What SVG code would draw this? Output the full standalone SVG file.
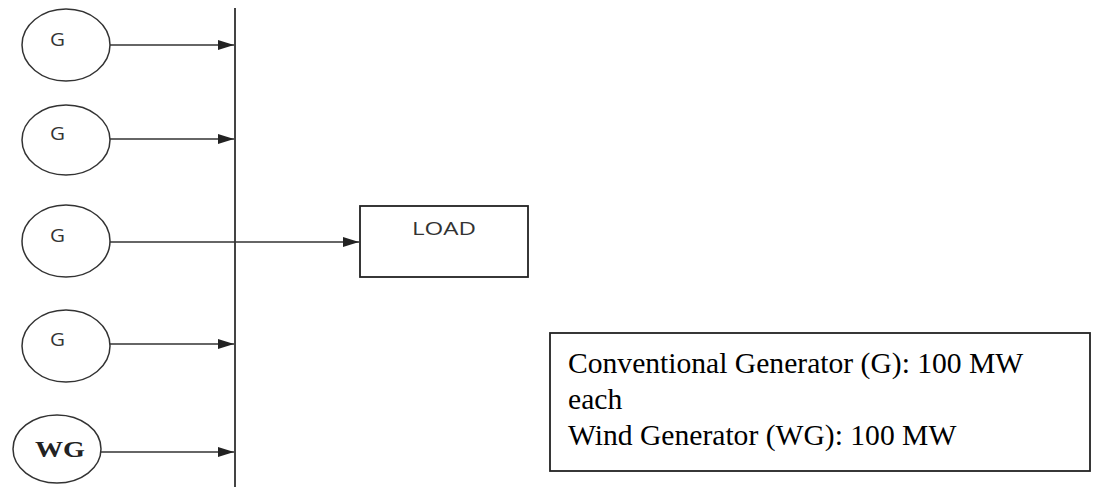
<svg xmlns="http://www.w3.org/2000/svg" width="1094" height="487" viewBox="0 0 1094 487">
<defs>
<marker id="ah" markerWidth="16" markerHeight="10" refX="16" refY="5" orient="auto" markerUnits="userSpaceOnUse">
<path d="M0,0 L16,5 L0,10 Z" fill="#222"/>
</marker>
<style>
.gen{fill:#fff;stroke:#333;stroke-width:1.5}
.gt{font-family:"Open Sans","DejaVu Sans",sans-serif;font-size:19px;fill:#333}
.wt{font-family:"Liberation Serif",serif;font-size:23px;font-weight:bold;fill:#222}
.conn{stroke:#333;stroke-width:1.6;fill:none}
.bus{stroke:#444;stroke-width:2;fill:none}
.box{fill:#fff;stroke:#222;stroke-width:1.8}
.lt{font-family:"Liberation Serif",serif;font-size:29.6px;fill:#000}
</style>
</defs>
<rect width="1094" height="487" fill="#fff"/>
<g id="connectors">
<line class="bus" x1="235" y1="8" x2="235" y2="487"/>
<line class="conn" x1="110" y1="45" x2="234" y2="45" marker-end="url(#ah)"/>
<line class="conn" x1="110" y1="139" x2="234" y2="139" marker-end="url(#ah)"/>
<line class="conn" x1="110" y1="242" x2="359" y2="242" marker-end="url(#ah)"/>
<line class="conn" x1="110" y1="344" x2="234" y2="344" marker-end="url(#ah)"/>
<line class="conn" x1="101" y1="452" x2="234" y2="452" marker-end="url(#ah)"/>
</g>
<g id="g1"><ellipse class="gen" cx="66" cy="45" rx="44" ry="36"/><text class="gt" x="50" y="46" textLength="15" lengthAdjust="spacingAndGlyphs">G</text></g>
<g id="g2"><ellipse class="gen" cx="66" cy="140" rx="44" ry="35"/><text class="gt" x="50" y="140" textLength="15" lengthAdjust="spacingAndGlyphs">G</text></g>
<g id="g3"><ellipse class="gen" cx="66" cy="241" rx="44" ry="36"/><text class="gt" x="50" y="242" textLength="15" lengthAdjust="spacingAndGlyphs">G</text></g>
<g id="g4"><ellipse class="gen" cx="66" cy="346" rx="44" ry="36"/><text class="gt" x="50" y="346" textLength="15" lengthAdjust="spacingAndGlyphs">G</text></g>
<g id="wg"><ellipse class="gen" cx="57" cy="449" rx="44" ry="34"/><text class="wt" x="35" y="457" textLength="50" lengthAdjust="spacingAndGlyphs">WG</text></g>
<g id="load"><rect class="box" x="360" y="206" width="168" height="71"/><text class="gt" x="412" y="235" textLength="64" lengthAdjust="spacingAndGlyphs">LOAD</text></g>
<g id="legend"><rect class="box" x="550" y="333" width="540" height="138"/>
<text class="lt" x="568" y="373">Conventional Generator (G): 100 MW</text>
<text class="lt" x="568" y="409">each</text>
<text class="lt" x="568" y="445">Wind Generator (WG): 100 MW</text>
</g>
</svg>
